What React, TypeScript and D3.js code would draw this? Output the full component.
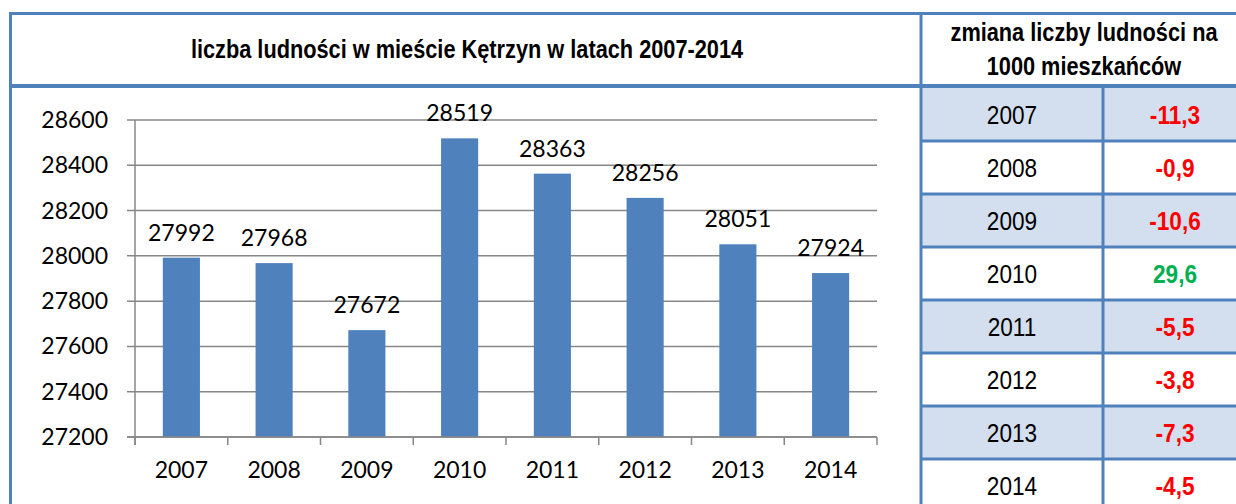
import * as d3 from "d3";

// chart data
const years = ["2007", "2008", "2009", "2010", "2011", "2012", "2013", "2014"];
const population = [27992, 27968, 27672, 28519, 28363, 28256, 28051, 27924];
const yTicks = [27200, 27400, 27600, 27800, 28000, 28200, 28400, 28600];

// table data
const changePer1000 = ["-11,3", "-0,9", "-10,6", "29,6", "-5,5", "-3,8", "-7,3", "-4,5"];

const title = "liczba ludności w mieście Kętrzyn w latach 2007-2014";
const tableTitle = ["zmiana liczby ludności na", "1000 mieszkańców"];

const W = 1236;
const H = 504;
const BLUE = "#4F81BD";
const GRID = "#878787";
const narrow = "'Liberation Sans', Arial, sans-serif";
const chartFont = "Lato, 'Open Sans', sans-serif";
const SQUEEZE = 0.87;

// Arial Narrow is not around, so squeeze Liberation Sans horizontally
function NarrowText({ x, y, size, bold, fill, children }: any) {
  return (
    <text
      transform={`translate(${x},${y}) scale(${SQUEEZE},1)`}
      textAnchor="middle"
      dy="0.36em"
      fontFamily={narrow}
      fontWeight={bold ? "bold" : "normal"}
      fontSize={size}
      fill={fill || "#000"}
    >
      {children}
    </text>
  );
}

export default function App() {
  const x = d3.scaleBand().domain(years).range([135, 877]).padding(0);
  const y = d3.scaleLinear().domain([27200, 28600]).range([437, 120]);
  const barW = x.bandwidth() * 0.4;

  // table geometry
  const tLeft = 921;
  const tMid = 1103;
  const tRight = 1250;
  const rowTop = 88;
  const rowH = 53;
  const rowY = d3.scaleLinear().domain([0, 1]).range([rowTop, rowTop + rowH]);

  return (
    <div style={{ position: "absolute", left: 0, top: 0 }}>
      <svg width={W} height={H} style={{ display: "block", background: "#fff" }}>
        {/* table row shading */}
        {years.map((yr, i) =>
          i % 2 === 0 ? (
            <rect key={"bg" + yr} x={tLeft} y={rowY(i)} width={tRight - tLeft} height={rowH} fill="#D3DFEE" />
          ) : null
        )}

        {/* grid + y axis */}
        {yTicks.map((t) => (
          <g key={t}>
            <line x1={127} x2={877} y1={y(t)} y2={y(t)} stroke={GRID} strokeWidth={1.5} />
            <text
              x={108}
              y={y(t)}
              dy="0.35em"
              textAnchor="end"
              fontFamily={chartFont}
              fontSize={23}
              fill="#000"
            >
              {t}
            </text>
          </g>
        ))}
        <line x1={135} x2={135} y1={120} y2={445} stroke={GRID} strokeWidth={1.5} />

        {/* x ticks */}
        {years.map((yr) => (
          <line key={"xt" + yr} x1={x(yr)!} x2={x(yr)!} y1={437} y2={445} stroke={GRID} strokeWidth={1.5} />
        ))}
        <line x1={877} x2={877} y1={437} y2={445} stroke={GRID} strokeWidth={1.5} />

        {/* bars */}
        {years.map((yr, i) => {
          const cx = x(yr)! + x.bandwidth() / 2;
          return (
            <g key={"bar" + yr}>
              <rect
                x={cx - barW / 2}
                y={y(population[i])}
                width={barW}
                height={437 - y(population[i])}
                fill={BLUE}
              />
              <text
                x={cx}
                y={y(population[i]) - 17}
                textAnchor="middle"
                fontFamily={chartFont}
                fontSize={23}
                fill="#000"
              >
                {population[i]}
              </text>
              <text x={cx} y={478} textAnchor="middle" fontFamily={chartFont} fontSize={23} fill="#000">
                {yr}
              </text>
            </g>
          );
        })}
        {/* x axis baseline over bars */}
        <line x1={127} x2={877} y1={437} y2={437} stroke={GRID} strokeWidth={1.5} />

        {/* titles */}
        <NarrowText x={467} y={49} size={25} bold>
          {title}
        </NarrowText>
        {tableTitle.map((s, i) => (
          <NarrowText key={s} x={1084} y={32 + i * 34} size={25} bold>
            {s}
          </NarrowText>
        ))}

        {/* table cells */}
        {years.map((yr, i) => (
          <g key={"row" + yr}>
            <NarrowText x={(tLeft + tMid) / 2} y={rowY(i) + rowH / 2} size={26}>
              {yr}
            </NarrowText>
            <NarrowText
              x={1175}
              y={rowY(i) + rowH / 2}
              size={26}
              bold
              fill={changePer1000[i].startsWith("-") ? "#FF0000" : "#00B050"}
            >
              {changePer1000[i]}
            </NarrowText>
          </g>
        ))}

        {/* table lines */}
        {years.map((yr, i) =>
          i > 0 ? (
            <line key={"hl" + yr} x1={tLeft} x2={W} y1={rowY(i)} y2={rowY(i)} stroke={BLUE} strokeWidth={3} />
          ) : null
        )}
        <line x1={tMid} x2={tMid} y1={86} y2={H} stroke={BLUE} strokeWidth={3} />

        {/* frame */}
        <line x1={9} x2={W} y1={13.5} y2={13.5} stroke={BLUE} strokeWidth={3} />
        <line x1={9} x2={W} y1={86} y2={86} stroke={BLUE} strokeWidth={4} />
        <line x1={10.5} x2={10.5} y1={12} y2={H} stroke={BLUE} strokeWidth={3} />
        <line x1={tLeft} x2={tLeft} y1={12} y2={H} stroke={BLUE} strokeWidth={3} />
      </svg>
    </div>
  );
}
